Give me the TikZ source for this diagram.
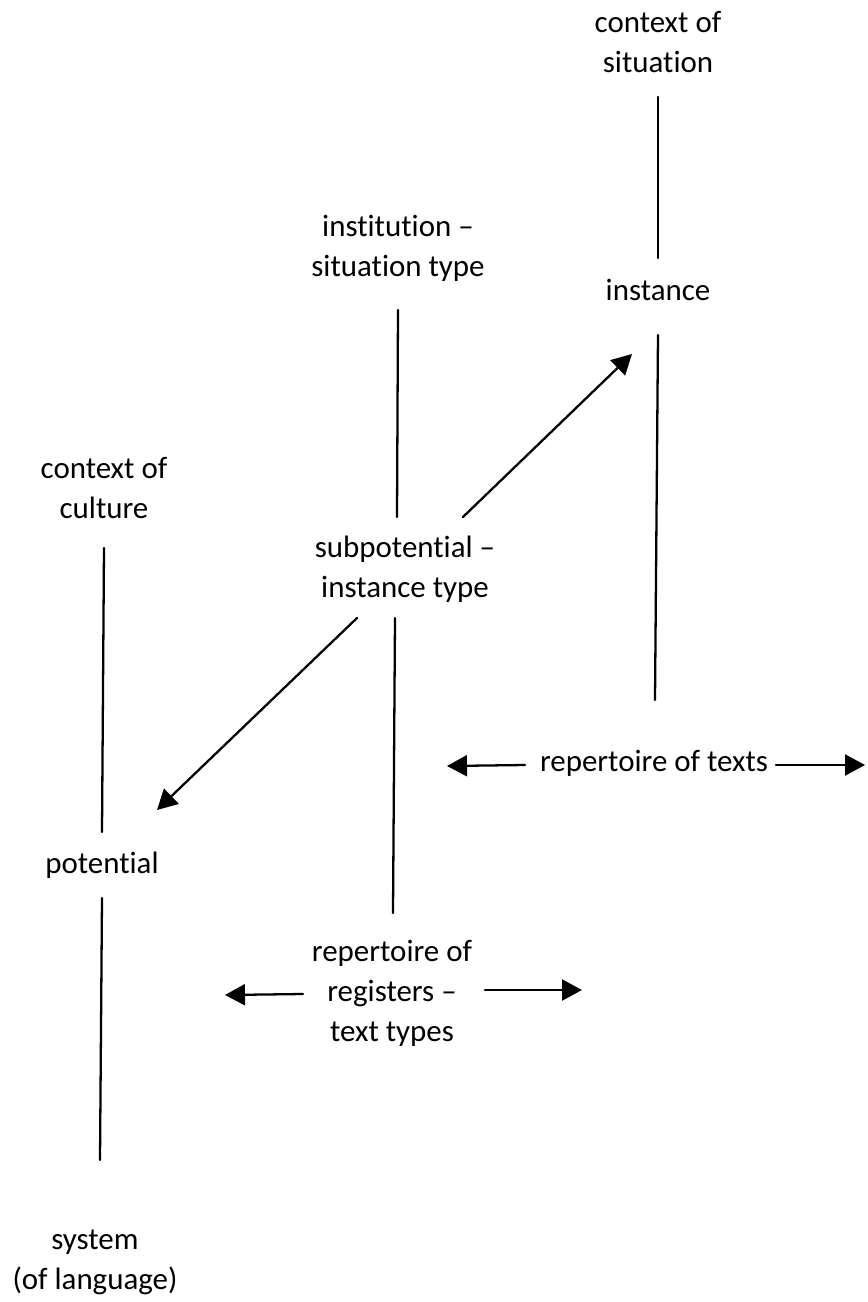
\documentclass[tikz,border=0pt]{standalone}
\usepackage{fontspec}
\setmainfont{Carlito}[Ligatures=NoCommon]
\usetikzlibrary{arrows.meta,calc}

\begin{document}
\begin{tikzpicture}[line cap=round,line join=round,x=0.02cm,y=-0.02cm,
		lbl/.style={align=center,inner sep=0pt,font=\fontsize{17.6}{22.8}\selectfont},
		link/.style={line width=1.3pt},
		arr/.style={line width=1.3pt,-{Triangle[length=0.4cm,width=0.42cm]}}]
	\useasboundingbox (0,0) rectangle (867,1302);
	% labels
	\node[lbl] (sit) at (658,42) {context of\\situation};
	\node[lbl] (inst) at (658,290) {instance};
	\node[lbl] (isn) at (398,248) {institution --\\situation type};
	\node[lbl] (sub) at (405,569) {subpotential --\\instance type};
	\node[lbl] (cul) at (104,488) {context of\\culture};
	\node[lbl] (pot) at (102,865) {potential};
	\node[lbl] (sys) at (95,1262) {system\\(of language)};
	\node[lbl] (rt) at (654,763) {repertoire of texts};
	\node[lbl] (reg) at (392,993) {repertoire of\\registers --\\text types};
	% vertical lines
	\draw[link] ($(sit)+(0,55)$) -- ($(inst)+(0,-32)$);
	\draw[link] ($(inst)+(0,45)$) -- ($(rt)+(1,-63)$);
	\draw[link] ($(isn)+(0,62)$) -- ($(sub)+(-8,-52)$);
	\draw[link] ($(sub)+(-10,49)$) -- ($(reg)+(1,-80)$);
	\draw[link] ($(cul)+(0,60)$) -- ($(pot)+(0,-33)$);
	\draw[link] ($(pot)+(0,33)$) -- ($(sys)+(5,-102)$);
	% arrows
	\draw[arr] ($(sub)+(58,-52)$) -- ($(inst)+(-26,64)$);
	\draw[arr] ($(sub)+(-48,49)$) -- ($(pot)+(55,-55)$);
	\draw[arr] ($(rt)+(-129,2)$) -- ($(rt)+(-207,3)$);
	\draw[arr] ($(rt)+(122,2)$) -- ($(rt)+(211,2)$);
	\draw[arr] ($(reg)+(-89,1)$) -- ($(reg)+(-167,2)$);
	\draw[arr] ($(reg)+(93,-3)$) -- ($(reg)+(190,-3)$);
\end{tikzpicture}
\end{document}
